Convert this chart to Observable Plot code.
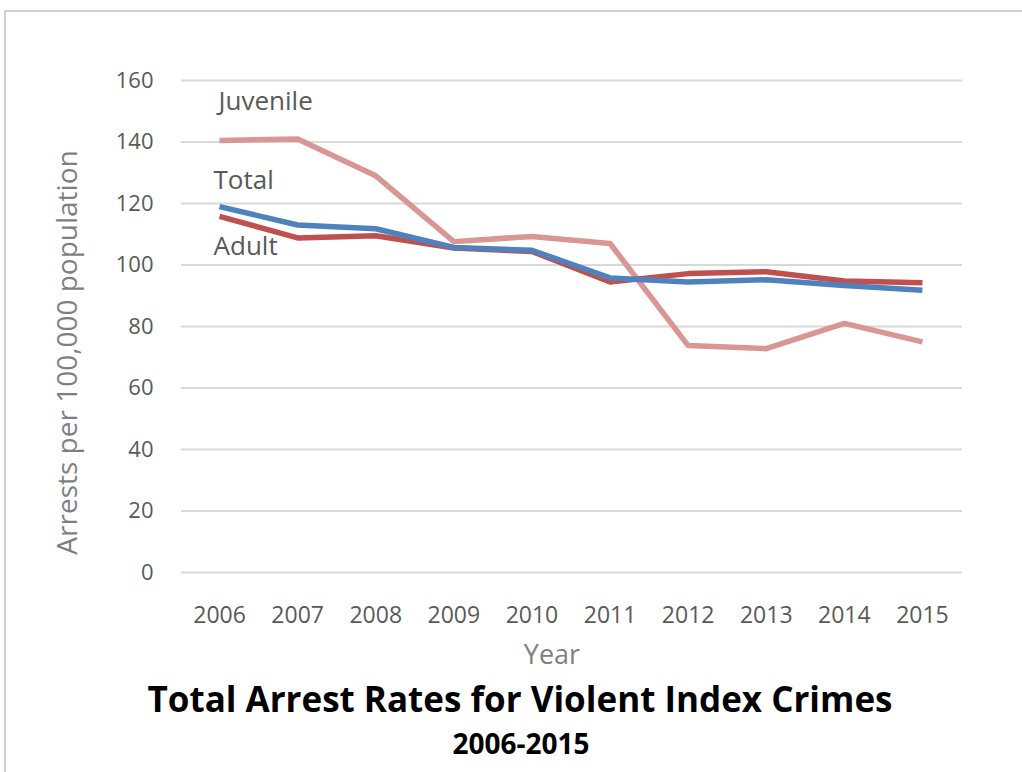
<!DOCTYPE html>
<html>
<head>
<meta charset="utf-8">
<script src="https://cdn.jsdelivr.net/npm/d3@7"></script>
<script src="https://cdn.jsdelivr.net/npm/@observablehq/plot@0.6"></script>
<style>
  html, body { margin: 0; padding: 0; background: #fff; }
  #page { position: relative; width: 1022px; height: 772px; overflow: hidden; background: #fff; }
  #frame { position: absolute; left: 4px; top: 10px; width: 1030px; height: 780px; border-left: 2px solid #d0d0d0; border-top: 2px solid #d0d0d0; }
  #chart { position: absolute; left: 0; top: 0; }
  #title { position: absolute; left: 0; width: 1040px; top: 675px; text-align: center; font-family: "Open Sans", sans-serif; font-weight: bold; font-size: 35px; color: #000; white-space: nowrap; }
  #subtitle { position: absolute; left: 0; width: 1042px; top: 724px; text-align: center; font-family: "Open Sans", sans-serif; font-weight: bold; font-size: 28px; color: #000; white-space: nowrap; }
</style>
</head>
<body>
<div id="page">
  <div id="frame"></div>
  <div id="chart"></div>
  <div id="title">Total Arrest Rates for Violent Index Crimes</div>
  <div id="subtitle">2006-2015</div>
</div>
<script>
const years = ["2006","2007","2008","2009","2010","2011","2012","2013","2014","2015"];
const juvenile = [140.5, 141, 129, 107.6, 109.3, 107, 73.8, 72.8, 81, 75];
const total = [119, 113, 111.8, 105.7, 104.8, 95.8, 94.5, 95.2, 93.3, 91.8];
const adult = [115.8, 108.8, 109.5, 105.5, 104.4, 94.5, 97.2, 97.8, 94.8, 94.2];
const yTicks = [0, 20, 40, 60, 80, 100, 120, 140, 160];

const seriesNames = ["Juvenile", "Adult", "Total"];
const seriesValues = [juvenile, adult, total];
const colors = {Juvenile: "#da9694", Adult: "#c0504d", Total: "#4f81bd"};
const labelDy = {Juvenile: -39, Total: -26, Adult: 30};
const labelDx = {Juvenile: -1, Total: -6, Adult: -6};

const rows = [];
seriesNames.forEach((s, i) => years.forEach((y, j) => rows.push({series: s, year: y, value: seriesValues[i][j]})));
const firstPoints = seriesNames.map((s, i) => ({series: s, year: years[0], value: seriesValues[i][0]}));

const chart = Plot.plot({
  width: 1022,
  height: 680,
  marginTop: 80,
  marginBottom: 108,
  marginLeft: 180,
  marginRight: 61,
  style: {fontFamily: "'Open Sans', sans-serif", fontSize: "22px", color: "#595959", background: "transparent"},
  x: {type: "point", domain: years, padding: 0.5, round: false, label: null},
  y: {domain: [0, 160], ticks: yTicks, label: null},
  marks: [
    Plot.ruleY(yTicks, {stroke: "#d9d9d9", strokeWidth: 2, dx: 1}),
    Plot.axisY({ticks: yTicks, tickSize: 0, tickPadding: 27, fontSize: 22, label: null}),
    Plot.axisX({tickSize: 0, tickPadding: 34, fontSize: 23, label: null}),
    Plot.line(rows, {x: "year", y: "value", z: "series", stroke: d => colors[d.series], strokeWidth: 5.5, strokeLinejoin: "round", strokeLinecap: "butt"}),
    ...seriesNames.map(s => Plot.text(firstPoints.filter(d => d.series === s), {x: "year", y: "value", text: "series", dy: labelDy[s], dx: labelDx[s], textAnchor: "start", fontSize: 26, fill: "#595959"})),
    Plot.text(["Arrests per 100,000 population"], {frameAnchor: "left", textAnchor: "middle", lineAnchor: "middle", dx: -112, dy: 26, rotate: -90, text: d => d, fontSize: 28, fill: "#7f7f7f"}),
    Plot.text(["Year"], {frameAnchor: "bottom", lineAnchor: "middle", dx: -19, dy: 83, text: d => d, fontSize: 27, fill: "#7f7f7f"})
  ]
});
document.getElementById("chart").appendChild(chart);
</script>
</body>
</html>
